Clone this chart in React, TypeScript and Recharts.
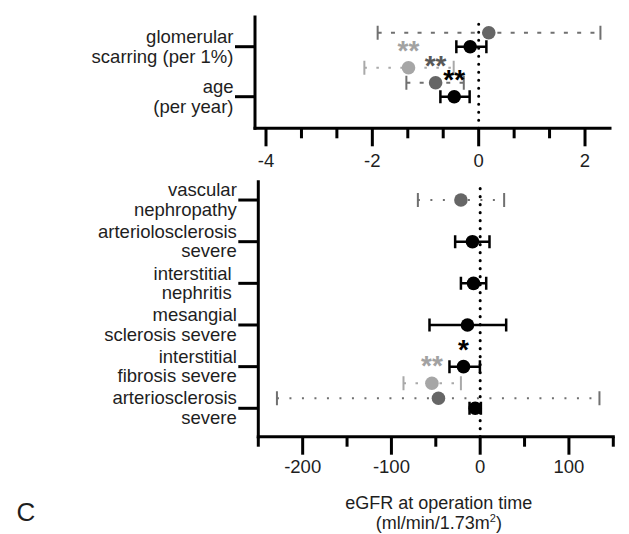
import React from 'react';
import { ScatterChart, Scatter, XAxis, YAxis, ReferenceLine } from 'recharts';

const FONT = '"Liberation Sans", Arial, Helvetica, sans-serif';
const INK = '#1e1e1e';

// ---- top panel: per 1% glomerular scarring / per year of age ----
const topCategories = ['glomerular\nscarring (per 1%)', 'age\n(per year)'];
const topLightEst = [null, -1.32];
const topLightLow = [null, -2.15];
const topLightHigh = [null, -0.47];
const topLightSig = ['', '**'];
const topDarkEst = [0.19, -0.81];
const topDarkLow = [-1.9, -1.36];
const topDarkHigh = [2.29, -0.28];
const topDarkSig = ['', '**'];
const topBlackEst = [-0.16, -0.46];
const topBlackLow = [-0.42, -0.72];
const topBlackHigh = [0.145, -0.17];
const topBlackSig = ['', '**'];
const topMajorTicks = [-4, -2, 0, 2];
const topMinorTicks = [-3.333, -2.667, -1.333, -0.667, 0.667, 1.333];

// ---- bottom panel: severe lesions ----
const bottomCategories = [
  'vascular\nnephropathy',
  'arteriolosclerosis\nsevere',
  'interstitial\u00a0\nnephritis\u00a0',
  'mesangial\nsclerosis severe',
  'interstitial\nfibrosis severe',
  'arteriosclerosis\nsevere',
];
const bottomLightEst = [null, null, null, null, null, -54.4];
const bottomLightLow = [null, null, null, null, null, -86.4];
const bottomLightHigh = [null, null, null, null, null, -21.7];
const bottomLightSig = ['', '', '', '', '', '**'];
const bottomDarkEst = [-21.7, null, null, null, null, -47];
const bottomDarkLow = [-70.2, null, null, null, null, -229];
const bottomDarkHigh = [27, null, null, null, null, 134.4];
const bottomDarkSig = ['', '', '', '', '', ''];
const bottomBlackEst = [null, -8.7, -7.5, -14.3, -18.8, -5.6];
const bottomBlackLow = [null, -28.2, -21.7, -57.1, -34.6, -12];
const bottomBlackHigh = [null, 10.5, 6.8, 29.3, -0.3, 0.8];
const bottomBlackSig = ['', '', '', '', '*', ''];
const bottomMajorTicks = [-200, -100, 0, 100];
const bottomMinorTicks = [-250, -150, -50, 50, 150];

type Look = { line: string; dot: string; star: string; width: number; cap: number };
const LIGHT: Look = { line: '#a9a9a9', dot: '#a6a6a6', star: '#a2a2a2', width: 2, cap: 7 };
const DARK: Look = { line: '#707070', dot: '#666666', star: '#585858', width: 2, cap: 7 };
const BLACK: Look = { line: '#000000', dot: '#000000', star: '#000000', width: 2.5, cap: 6.5 };

type Series = {
  name: string;
  est: (number | null)[];
  low: (number | null)[];
  high: (number | null)[];
  sig: string[];
  look: Look;
  shift: number;
  dash?: string;
};

type Row = { s: Series; y: number; est: number; low: number; high: number; sig: string };

type PanelProps = {
  categories: string[];
  series: Series[];
  major: number[];
  minor: number[];
  xDomain: [number, number];
  yDomain: [number, number];
  height: number;
  margin: { top: number; right: number; bottom: number; left: number };
  yAxisWidth: number;
  xAxisHeight: number;
  labelGap: number;
  title?: boolean;
};

function Panel(p: PanelProps) {
  const n = p.categories.length;
  const rows: Row[] = [];
  p.categories.forEach((_, i) => {
    const pos = n - i;
    const present = p.series.filter((s) => s.est[i] != null);
    present.forEach((s) =>
      rows.push({
        s,
        y: present.length === 1 ? pos : pos + s.shift,
        est: s.est[i] as number,
        low: s.low[i] as number,
        high: s.high[i] as number,
        sig: s.sig[i],
      })
    );
  });
  const ticks = [...p.major, ...p.minor].sort((a, b) => a - b);
  const positions = p.categories.map((_, i) => n - i);

  const xTick = (props: any) => {
    const { x, y, payload } = props;
    const isMajor = p.major.some((m) => Math.abs(m - payload.value) < 1e-6);
    return (
      <g>
        <line x1={x} x2={x} y1={y} y2={y + (isMajor ? 18 : 10)} stroke="#000" strokeWidth={3} />
        {isMajor && (
          <text x={x} y={y + p.labelGap} textAnchor="middle" fontSize={18.5} fontFamily={FONT} fill={INK}>
            {String(payload.value)}
          </text>
        )}
      </g>
    );
  };

  const yTick = (props: any) => {
    const { x, y, payload } = props;
    const idx = n - Math.round(payload.value);
    const lines = (p.categories[idx] || '').split('\n');
    return (
      <text textAnchor="end" fontSize={18.5} fontFamily={FONT} fill={INK}>
        <tspan x={x} y={y - 9.3 + 5.5}>{lines[0]}</tspan>
        <tspan x={x} y={y + 10.3 + 5.5}>{lines[1]}</tspan>
      </text>
    );
  };

  const title = (props: any) => {
    const vb = props && props.viewBox ? props.viewBox : { x: p.yAxisWidth, y: p.height - p.xAxisHeight, width: 355 };
    const cx = vb.x + vb.width / 2 + 3;
    return (
      <g>
        <text x={cx} y={vb.y + 72} textAnchor="middle" fontSize={18} fontFamily={FONT} fill={INK}>
          eGFR at operation time
        </text>
        <text x={cx} y={vb.y + 92} textAnchor="middle" fontSize={18} fontFamily={FONT} fill={INK}>
          (ml/min/1.73m<tspan fontSize={11} dy={-6.5}>2</tspan><tspan dy={6.5}>)</tspan>
        </text>
      </g>
    );
  };

  return (
    <ScatterChart width={629} height={p.height} margin={p.margin}>
      <XAxis
        type="number"
        dataKey="x"
        domain={p.xDomain}
        allowDataOverflow
        ticks={ticks}
        interval={0}
        tickSize={0}
        tickMargin={0}
        tickLine={false}
        axisLine={{ stroke: '#000', strokeWidth: 3, strokeLinecap: 'square' }}
        tick={xTick}
        height={p.xAxisHeight}
        label={p.title ? title : undefined}
      />
      <YAxis
        type="number"
        dataKey="y"
        domain={p.yDomain}
        allowDataOverflow
        ticks={positions}
        interval={0}
        width={p.yAxisWidth}
        tickSize={20}
        tickMargin={1.5}
        tickLine={{ stroke: '#000', strokeWidth: 3 }}
        axisLine={{ stroke: '#000', strokeWidth: 3, strokeLinecap: 'square' }}
        tick={yTick}
      />
      <ReferenceLine x={0} stroke="#000" strokeWidth={3} strokeDasharray="0.1 7.9" strokeLinecap="round" />
      {rows.map((r, k) => (
        <Scatter
          key={'ci' + k}
          data={[
            { x: r.low, y: r.y },
            { x: r.high, y: r.y },
          ]}
          fill="none"
          line={{ stroke: r.s.look.line, strokeWidth: r.s.look.width, strokeDasharray: r.s.dash }}
          shape={(q: any) => (
            <line
              x1={q.cx}
              x2={q.cx}
              y1={q.cy - r.s.look.cap}
              y2={q.cy + r.s.look.cap}
              stroke={r.s.look.line}
              strokeWidth={r.s.look.width}
            />
          )}
          isAnimationActive={false}
        />
      ))}
      {p.series.map((s) => (
        <Scatter
          key={'est' + s.name}
          data={rows.filter((r) => r.s === s).map((r) => ({ x: r.est, y: r.y, sig: r.sig }))}
          fill={s.look.dot}
          shape={(q: any) => (
            <g>
              <circle cx={q.cx} cy={q.cy} r={6.8} fill={s.look.dot} />
              {q.payload && q.payload.sig ? (
                <text
                  x={q.cx}
                  y={q.cy - 8}
                  textAnchor="middle"
                  fontSize={28}
                  fontWeight="bold"
                  fontFamily={FONT}
                  fill={s.look.star}
                >
                  {q.payload.sig}
                </text>
              ) : null}
            </g>
          )}
          isAnimationActive={false}
        />
      ))}
    </ScatterChart>
  );
}

const topSeries: Series[] = [
  { name: 'light', est: topLightEst, low: topLightLow, high: topLightHigh, sig: topLightSig, look: LIGHT, shift: 0.58, dash: '2.5 9.5' },
  { name: 'dark', est: topDarkEst, low: topDarkLow, high: topDarkHigh, sig: topDarkSig, look: DARK, shift: 0.28, dash: '4 9.3' },
  { name: 'black', est: topBlackEst, low: topBlackLow, high: topBlackHigh, sig: topBlackSig, look: BLACK, shift: 0 },
];

const bottomSeries: Series[] = [
  { name: 'light', est: bottomLightEst, low: bottomLightLow, high: bottomLightHigh, sig: bottomLightSig, look: LIGHT, shift: 0.6, dash: '2.5 9.5' },
  { name: 'dark', est: bottomDarkEst, low: bottomDarkLow, high: bottomDarkHigh, sig: bottomDarkSig, look: DARK, shift: 0.24, dash: '2 10.5' },
  { name: 'black', est: bottomBlackEst, low: bottomBlackLow, high: bottomBlackHigh, sig: bottomBlackSig, look: BLACK, shift: 0 },
];

export default function App() {
  return (
    <div style={{ position: 'absolute', left: 0, top: 0, width: 629, height: 534, background: '#fff', overflow: 'hidden' }}>
      <div style={{ position: 'absolute', left: 0, top: 0 }}>
        <Panel
          categories={topCategories}
          series={topSeries}
          major={topMajorTicks}
          minor={topMinorTicks}
          xDomain={[-4.207, 2.47]}
          yDomain={[0.368, 2.594]}
          height={175}
          margin={{ top: 17, right: 19, bottom: 0, left: 0 }}
          yAxisWidth={255}
          xAxisHeight={46.7}
          labelGap={38.3}
        />
      </div>
      <div style={{ position: 'absolute', left: 0, top: 175 }}>
        <Panel
          categories={bottomCategories}
          series={bottomSeries}
          major={bottomMajorTicks}
          minor={bottomMinorTicks}
          xDomain={[-250, 150]}
          yDomain={[0.318, 6.44]}
          height={359}
          margin={{ top: 6.7, right: 15.7, bottom: 0, left: 0 }}
          yAxisWidth={258.3}
          xAxisHeight={97.3}
          labelGap={36.6}
          title
        />
      </div>
      <svg width={629} height={534} style={{ position: 'absolute', left: 0, top: 0, pointerEvents: 'none' }}>
        <text x={26} y={521} textAnchor="middle" fontSize={26} fontFamily={FONT} fill={INK}>
          C
        </text>
      </svg>
    </div>
  );
}
